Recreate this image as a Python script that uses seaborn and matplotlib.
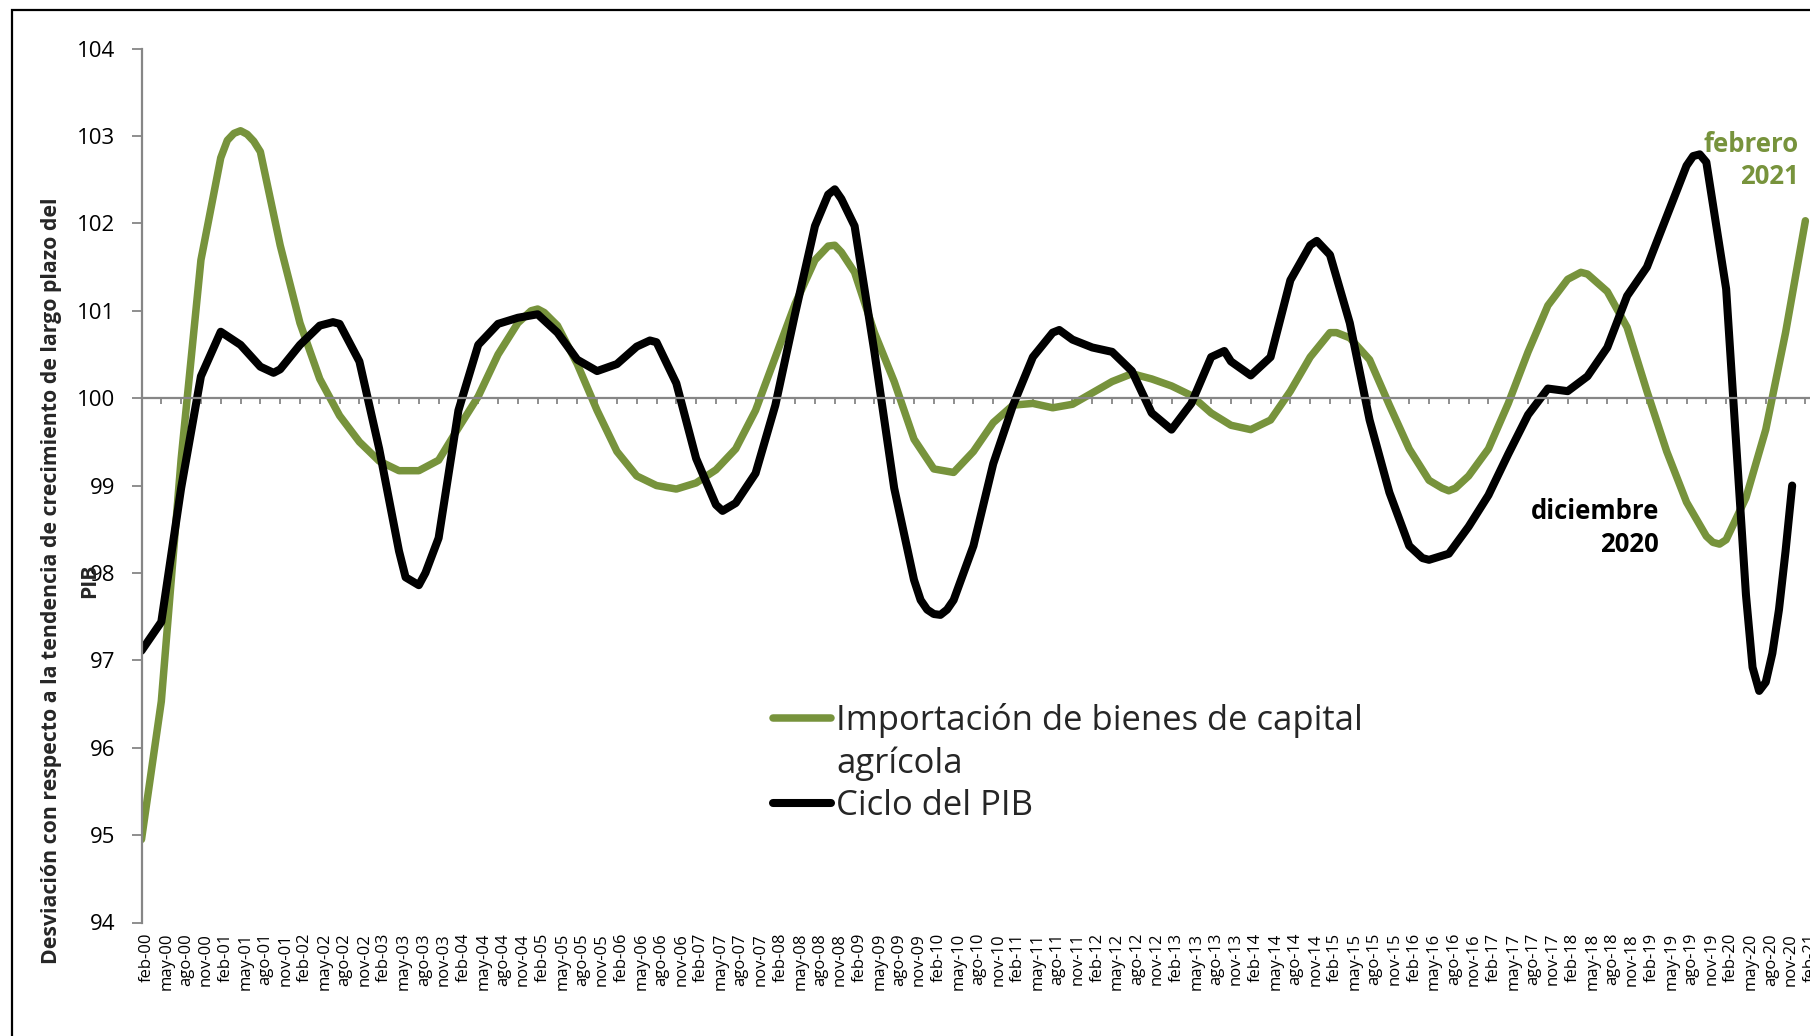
import matplotlib
matplotlib.use("Agg")
from matplotlib import pyplot as plt
from matplotlib.lines import Line2D
from matplotlib.patches import Rectangle
from matplotlib.transforms import ScaledTranslation
import pandas as pd
import seaborn as sns

VERDE = "#77933C"
GRIS = "#868686"

# categorias trimestrales del eje (feb-00 ... feb-21)
meses = ["feb", "may", "ago", "nov"]
trimestres = pd.period_range("2000-02", "2021-02", freq="3M")
etiquetas_x = [f"{meses[i % 4]}-{p.year % 100:02d}" for i, p in enumerate(trimestres)]

# Importacion de bienes de capital agricola (valor en cada trimestre)
importacion = [
    94.95, 96.53, 99.30, 101.58, 102.75, 103.06, 102.82, 101.75, 100.86, 100.22,
    99.80, 99.50, 99.28, 99.17, 99.17, 99.29, 99.66, 100.02, 100.50, 100.86,
    101.02, 100.83, 100.39, 99.86, 99.39, 99.11, 99.00, 98.96, 99.03, 99.18,
    99.42, 99.86, 100.47, 101.08, 101.58, 101.75, 101.44, 100.75, 100.19, 99.53,
    99.19, 99.15, 99.39, 99.72, 99.92, 99.94, 99.89, 99.93, 100.06, 100.19,
    100.28, 100.22, 100.14, 100.03, 99.83, 99.69, 99.64, 99.75, 100.08, 100.47,
    100.75, 100.69, 100.44, 99.92, 99.42, 99.06, 98.94, 99.11, 99.42, 99.94,
    100.53, 101.06, 101.36, 101.42, 101.22, 100.81, 100.08, 99.39, 98.81, 98.42,
    98.38, 98.86, 99.64, 100.75, 102.03,
]
importacion_extra = {
    "2001-03": 102.95, "2001-04": 103.03, "2001-06": 103.02, "2001-07": 102.94,
    "2005-01": 101.00, "2005-03": 100.98, "2008-10": 101.74, "2008-12": 101.67,
    "2015-03": 100.75, "2016-07": 98.97, "2016-09": 98.97, "2018-04": 101.44,
    "2019-12": 98.35, "2020-01": 98.33,
}

# Ciclo del PIB (trimestres hasta nov-20, mas meses sueltos en los giros)
pib = [
    97.11, 97.44, 98.97, 100.25, 100.76, 100.61, 100.36, 100.33, 100.61, 100.83,
    100.85, 100.42, 99.42, 98.25, 97.86, 98.40, 99.86, 100.61, 100.85, 100.92,
    100.96, 100.75, 100.44, 100.31, 100.39, 100.59, 100.64, 100.17, 99.31, 98.78,
    98.80, 99.14, 99.92, 100.97, 101.97, 102.39, 101.97, 100.53, 98.97, 97.92,
    97.53, 97.69, 98.31, 99.25, 99.92, 100.47, 100.75, 100.67, 100.58, 100.53,
    100.31, 99.83, 99.64, 99.94, 100.47, 100.42, 100.26, 100.47, 101.35, 101.75,
    101.64, 100.86, 99.75, 98.92, 98.31, 98.15, 98.22, 98.53, 98.89, 99.36,
    99.81, 100.11, 100.08, 100.25, 100.58, 101.17, 101.50, 102.08, 102.66, 102.70,
    101.25, 97.75, 96.75, 98.25,
]
pib_extra = {
    "2001-10": 100.29, "2002-07": 100.87, "2003-06": 97.95, "2003-09": 98.00,
    "2006-07": 100.66, "2007-06": 98.71, "2008-10": 102.33, "2008-12": 102.28,
    "2009-12": 97.69, "2010-01": 97.58, "2010-03": 97.52, "2010-04": 97.58,
    "2011-09": 100.78, "2013-10": 100.54, "2014-12": 101.80, "2016-04": 98.17,
    "2019-09": 102.77, "2019-10": 102.79, "2020-06": 96.92, "2020-07": 96.65,
    "2020-09": 97.08, "2020-10": 97.58, "2020-12": 99.00,
}


def a_mes(periodo):
    """Indice de mes contado desde feb-00."""
    return (periodo.year - 2000) * 12 + periodo.month - 2


def armar_serie(valores, extra):
    meses_idx = [a_mes(p) for p in trimestres[:len(valores)]]
    meses_idx += [a_mes(pd.Period(k, "M")) for k in extra]
    df = pd.DataFrame({"mes": meses_idx, "valor": list(valores) + list(extra.values())})
    return df.sort_values("mes")


df_imp = armar_serie(importacion, importacion_extra)
df_pib = armar_serie(pib, pib_extra)

sns.set_style("white")
plt.rcParams["font.family"] = ["Open Sans", "DejaVu Sans"]

W, H = 1810, 1036
fig = plt.figure(figsize=(W / 100, H / 100), dpi=100)
ax = fig.add_axes([141.5 / W, 1 - 922.5 / H, 1 - 141.5 / W, (922.5 - 48.6) / H])

sns.lineplot(data=df_imp, x="mes", y="valor", color=VERDE, linewidth=5.4,
             solid_joinstyle="round", solid_capstyle="round", ax=ax)
sns.lineplot(data=df_pib, x="mes", y="valor", color="black", linewidth=5.8,
             solid_joinstyle="round", solid_capstyle="round", ax=ax)

ax.set_xlim(0, 252.7)
ax.set_ylim(94, 104)
ax.set_xlabel("")
ax.set_ylabel("")

for lado in ["top", "right"]:
    ax.spines[lado].set_visible(False)
ax.spines["left"].set_color(GRIS)
ax.spines["left"].set_linewidth(1.6)
ax.spines["bottom"].set_position(("data", 100))
ax.spines["bottom"].set_color(GRIS)
ax.spines["bottom"].set_linewidth(1.6)

ax.tick_params(axis="y", left=True, direction="out", length=7, width=1.3,
               color=GRIS, labelsize=16, pad=12, labelcolor="black")
ax.tick_params(axis="x", bottom=True, direction="out", length=4, width=1.3,
               color=GRIS, pad=381, labelcolor="black", labelsize=12,
               labelrotation=90)
ax.set_yticks(range(94, 105))
ax.set_xticks([a_mes(p) for p in trimestres])
ax.set_xticklabels(etiquetas_x)
# las etiquetas del eje x quedan un poco a la derecha de su marca
desplazamiento = ScaledTranslation(5 / 100, 0, fig.dpi_scale_trans)
for etiqueta in ax.get_xticklabels():
    etiqueta.set_transform(etiqueta.get_transform() + desplazamiento)

h_imp, h_pib = ax.get_lines()[0], ax.get_lines()[1]
ax.legend([h_imp, Line2D([], [], color="none"), h_pib],
          ["Importación de bienes de capital", "agrícola", "Ciclo del PIB"],
          loc="upper left", bbox_to_anchor=(773 / W, 1 - 703 / H),
          bbox_transform=fig.transFigure, frameon=False, fontsize=24.9,
          handlelength=1.68, handletextpad=0.15, labelspacing=0.24,
          borderpad=0, borderaxespad=0)

ax.text(251.0, 102.72, "febrero\n2021", ha="right", va="center",
        multialignment="right", color=VERDE, fontweight="bold",
        fontsize=18.5, linespacing=1.2)
ax.text(229.8, 98.51, "diciembre\n2020", ha="right", va="center",
        multialignment="right", color="black", fontweight="bold",
        fontsize=18.5, linespacing=1.28)

# titulo del eje y, en dos renglones (el segundo cae sobre el 98, como en el original)
fig.text(52 / W, 1 - 581 / H,
         "Desviación con respecto a la tendencia de crecimiento de largo plazo del",
         rotation=90, ha="center", va="center", fontweight="bold", fontsize=15.3)
fig.text(90 / W, 1 - 581 / H, "PIB",
         rotation=90, ha="center", va="center", fontweight="bold", fontsize=15.3)

# marco del grafico (recortado a la derecha y abajo)
fig.add_artist(Rectangle((12 / W, -1), 2, 1 + (1 - 10 / H), transform=fig.transFigure,
                         fill=False, edgecolor="black", linewidth=1.6))

fig.savefig("out.png", dpi=100)
